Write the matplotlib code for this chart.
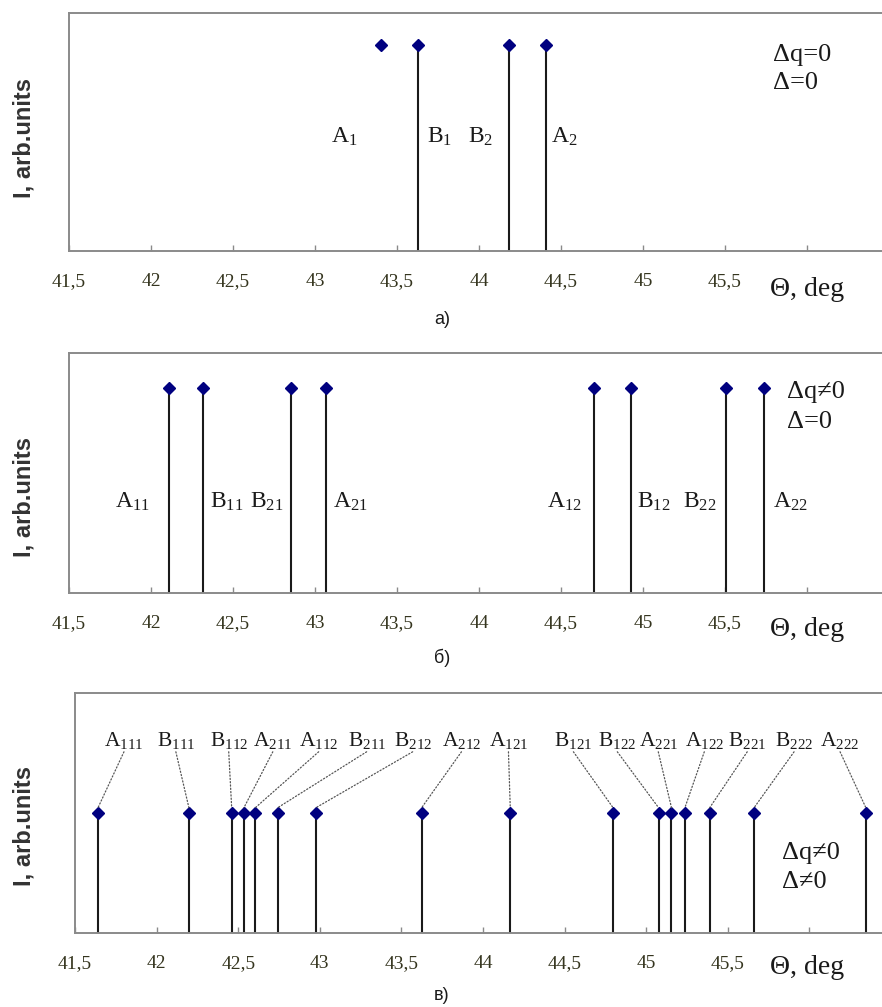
import numpy as np
import matplotlib
matplotlib.use("Agg")
import matplotlib.pyplot as plt

SERIF = ['Liberation Serif', 'DejaVu Serif']
plt.rcParams['font.family'] = SERIF
plt.rcParams['mathtext.fontset'] = 'custom'
plt.rcParams['mathtext.rm'] = 'Liberation Serif'
plt.rcParams['mathtext.it'] = 'Liberation Serif:italic'

# ---- data ----
# a) dq = 0, d = 0
theta_a = [43.40, 43.625, 44.18, 44.41]
inten_a = [0.866, 0.866, 0.866, 0.866]
stem_a = [False, True, True, True]
labels_a = ['A$_1$', 'B$_1$', 'B$_2$', 'A$_2$']

# b) dq != 0, d = 0
theta_b = [42.108, 42.32, 42.854, 43.065, 44.70, 44.927, 45.506, 45.74]
inten_b = [0.854, 0.854, 0.854, 0.854, 0.854, 0.854, 0.854, 0.854]
labels_b = ['A$_{11}$', 'B$_{11}$', 'B$_{21}$', 'A$_{21}$',
            'A$_{12}$', 'B$_{12}$', 'B$_{22}$', 'A$_{22}$']

# c) dq != 0, d != 0
theta_c = [41.641, 42.198, 42.460, 42.535, 42.605, 42.742, 42.976, 43.624,
           44.167, 44.797, 45.076, 45.155, 45.237, 45.389, 45.661, 46.346]
inten_c = [0.502] * 16
labels_c = ['A$_{111}$', 'B$_{111}$', 'B$_{112}$', 'A$_{211}$', 'A$_{112}$',
            'B$_{211}$', 'B$_{212}$', 'A$_{212}$', 'A$_{121}$', 'B$_{121}$',
            'B$_{122}$', 'A$_{221}$', 'A$_{122}$', 'B$_{221}$', 'B$_{222}$',
            'A$_{222}$']

tick_vals = [41.5, 42, 42.5, 43, 43.5, 44, 44.5, 45, 45.5, 46]
tick_text = ['41,5', '42', '42,5', '43', '43,5', '44', '44,5', '45', '45,5', '']

# ---- layout helpers (pixels of the 882x1007 canvas) ----
W, H = 882, 1007
def fx(x):
    return x / W
def fy(y):
    return 1 - y / H

fig = plt.figure(figsize=(W / 100, H / 100), dpi=100)

def make_axes(left_px, top_px, bottom_px, x0_px, px_per_deg):
    right_px = 892
    ax = fig.add_axes([fx(left_px), fy(bottom_px), (right_px - left_px) / W,
                       (bottom_px - top_px) / H])
    ax.set_xlim(41.5 + (left_px - x0_px) / px_per_deg,
                41.5 + (right_px - x0_px) / px_per_deg)
    ax.set_ylim(0, 1)
    for s in ax.spines.values():
        s.set_color('#8a8a8a')
        s.set_linewidth(1.4)
    ax.set_yticks([])
    ax.set_xticks(tick_vals)
    ax.set_xticklabels(tick_text, family=SERIF)
    ax.tick_params(axis='x', direction='in', length=4, width=1, colors='#8a8a8a',
                   labelcolor='#35351f', labelsize=14, pad=16)
    return ax

def stems(ax, xs, ys, draw=None):
    for i, (x, y) in enumerate(zip(xs, ys)):
        if draw is None or draw[i]:
            ax.vlines(x, 0, y, color='#1a1a1a', lw=1.5, zorder=2)
    ax.plot(xs, ys, 'D', color='#000080', ms=6.3, zorder=3, clip_on=False)

def side_text(lines, x_px, y_px, step=29):
    for k, t in enumerate(lines):
        fig.text(fx(x_px), fy(y_px + k * step), t, fontsize=19, family=SERIF,
                 ha='left', va='center', color='#1a1a1a')

# ---- panel a ----
ax_a = make_axes(69, 13, 251, 69, 164)
stems(ax_a, theta_a, inten_a, stem_a)
off_a = [-0.22, 0.135, -0.17, 0.11]
for x, lab, o in zip(theta_a, labels_a, off_a):
    ax_a.text(x + o, 0.479, lab, fontsize=17, family=SERIF, ha='center',
              va='center', color='#1a1a1a')
side_text(['Δq=0', 'Δ=0'], 773, 55, 28)

# ---- panel b ----
ax_b = make_axes(69, 353, 593, 69, 164)
stems(ax_b, theta_b, inten_b)
off_b = [-0.22, 0.14, -0.15, 0.15, -0.18, 0.14, -0.16, 0.16]
for x, lab, o in zip(theta_b, labels_b, off_b):
    ax_b.text(x + o, 0.379, lab, fontsize=17, family=SERIF, ha='center',
              va='center', color='#1a1a1a')
side_text(['Δq≠0', 'Δ=0'], 787, 392, 30)

# ---- panel c ----
ax_c = make_axes(75, 693, 933, 74, 163.4)
stems(ax_c, theta_c, inten_c)
lab_x = [41.80, 42.118, 42.442, 42.712, 42.993, 43.287, 43.569, 43.868,
         44.156, 44.554, 44.823, 45.074, 45.356, 45.619, 45.906, 46.188]
for x, y, lab, lx in zip(theta_c, inten_c, labels_c, lab_x):
    ax_c.text(lx, 0.803, lab, fontsize=15.5, family=SERIF, ha='center',
              va='center', color='#1a1a1a')
    ax_c.annotate('', xy=(x, y + 0.02), xytext=(lx, 0.755),
                  arrowprops=dict(arrowstyle='-', linestyle=':', lw=0.9,
                                  color='#555555', shrinkA=0, shrinkB=0))
side_text(['Δq≠0', 'Δ≠0'], 782, 853, 29)

# ---- axis titles and captions ----
for yc, yt, cap, ycap in [(138, 290, 'а)', 320), (497, 630, 'б)', 658), (826, 968, 'в)', 996)]:
    fig.text(fx(24), fy(yc), 'I, arb.units', rotation=90, fontsize=17,
             fontweight='bold', family='Liberation Sans', ha='center', va='center',
             color='#333333')
    fig.text(fx(807), fy(yt), 'Θ, deg', fontsize=20, family=SERIF, ha='center',
             va='center', color='#1a1a1a')
    fig.text(fx(442), fy(ycap), cap, fontsize=13, family='Liberation Sans',
             ha='center', va='center', color='#1a1a1a')

fig.savefig('out.png', dpi=100)
